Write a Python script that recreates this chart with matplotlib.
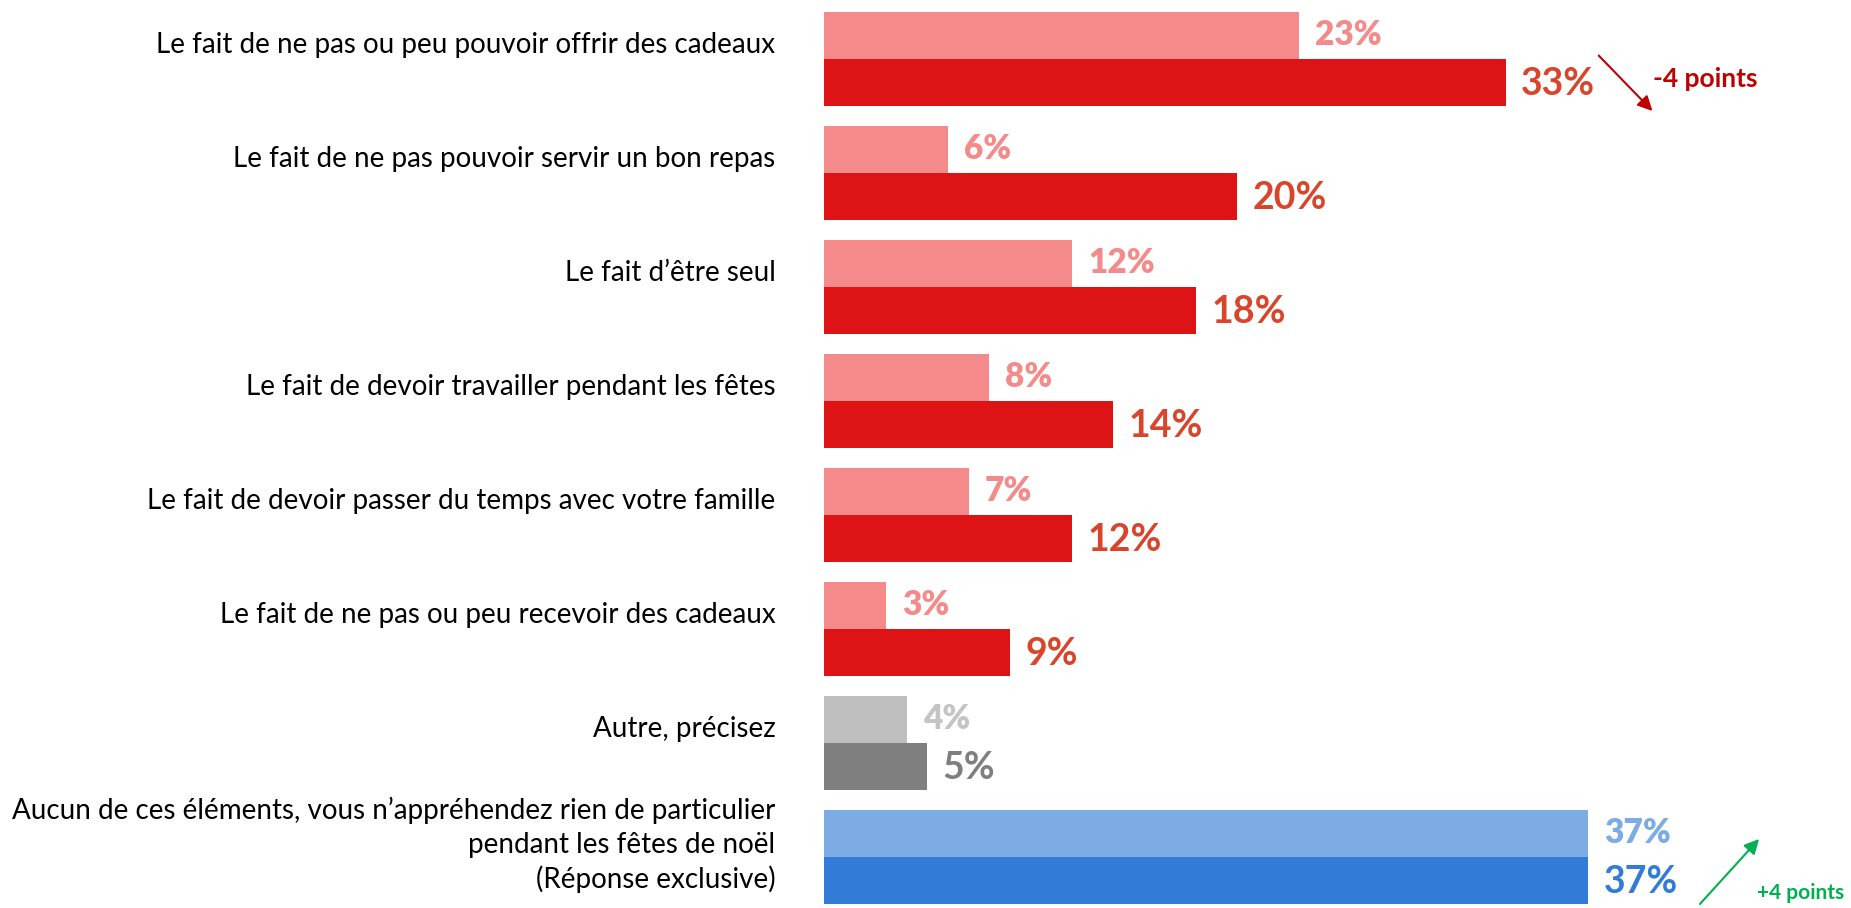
import matplotlib
matplotlib.use("Agg")
import matplotlib.pyplot as plt

categories = [
    "Le fait de ne pas ou peu pouvoir offrir des cadeaux",
    "Le fait de ne pas pouvoir servir un bon repas",
    "Le fait d\u2019être seul",
    "Le fait de devoir travailler pendant les fêtes",
    "Le fait de devoir passer du temps avec votre famille",
    "Le fait de ne pas ou peu recevoir des cadeaux",
    "Autre, précisez",
    "Aucun de ces éléments, vous n\u2019appréhendez rien de particulier\npendant les fêtes de noël\n(Réponse exclusive)",
]
series_light = [23, 6, 12, 8, 7, 3, 4, 37]
series_dark = [33, 20, 18, 14, 12, 9, 5, 37]

light_colors = ["#F48A8A"] * 6 + ["#BFBFBF", "#7DACE4"]
dark_colors = ["#DE1316"] * 6 + ["#7F7F7F", "#327CD8"]
light_label_colors = ["#F48A8A"] * 6 + ["#C4C4C4", "#7DACE4"]
dark_label_colors = ["#D9442A"] * 6 + ["#7F7F7F", "#327CD8"]

W, H = 1851, 908
fig = plt.figure(figsize=(W / 100, H / 100), dpi=100)
left_px = 824
px_per_unit = 20.66
ax = fig.add_axes([left_px / W, 0, 1 - left_px / W, 1])
ax.set_xlim(0, (W - left_px) / px_per_unit)
pitch = 114.0
c0 = 59.0
ax.set_ylim((H - c0) / pitch, -c0 / pitch)
ax.axis("off")

bh = 47.2 / pitch
n = len(categories)
ys = list(range(n))
y_light = [y - bh / 2 for y in ys]
y_dark = [y + bh / 2 for y in ys]

ax.barh(y_light, series_light, height=bh, color=light_colors, linewidth=0)
ax.barh(y_dark, series_dark, height=bh, color=dark_colors, linewidth=0)

val_font = "Lato"
for i in range(n):
    ax.annotate(f"{series_light[i]}%", xy=(series_light[i], y_light[i]),
                xytext=(11.5, 0), textcoords="offset points",
                ha="left", va="center", fontsize=24, fontweight="heavy",
                color=light_label_colors[i], family=val_font)
    ax.annotate(f"{series_dark[i]}%", xy=(series_dark[i], y_dark[i]),
                xytext=(11, -1), textcoords="offset points",
                ha="left", va="center", fontsize=27, fontweight="bold",
                color=dark_label_colors[i], family=val_font)
    dy = -12 if i == n - 1 else -14
    ax.annotate(categories[i], xy=(0, ys[i]), xytext=(-35, -dy * 0.72),
                textcoords="offset points", ha="right", va="center",
                fontsize=20, color="black", family="Lato",
                linespacing=1.36, multialignment="right")

# change annotations
ax.annotate("", xy=(40.1, 0.456), xytext=(37.5, -0.03),
            arrowprops=dict(arrowstyle="-|>", color="#C00000", lw=1.5,
                            mutation_scale=22, shrinkA=0, shrinkB=0))
ax.text(40.15, 0.175, "-4 points", ha="left", va="center", fontsize=19,
        fontweight="bold", color="#C00000", family=val_font)

ax.annotate("", xy=(45.26, 6.842), xytext=(42.4, 7.412),
            arrowprops=dict(arrowstyle="-|>", color="#00B050", lw=1.5,
                            mutation_scale=22, shrinkA=0, shrinkB=0))
ax.text(45.15, 7.32, "+4 points", ha="left", va="center", fontsize=15,
        fontweight="bold", color="#00B050", family=val_font)

fig.savefig("out.png", dpi=100)
